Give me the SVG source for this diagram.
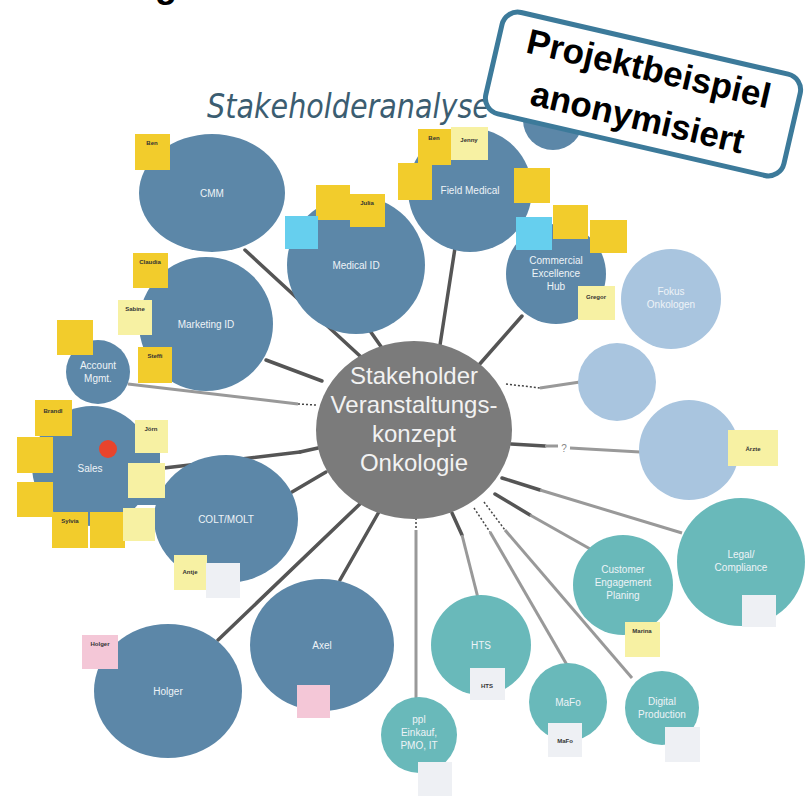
<svg xmlns="http://www.w3.org/2000/svg" width="808" height="800" viewBox="0 0 808 800">
<style>
.dk{fill:#5c87a8}
.lb{fill:#a9c5df}
.tl{fill:#69b9ba}
.lbl{font-family:"Liberation Sans",Arial,sans-serif;font-size:10px;fill:#eef3f7;text-anchor:middle}
.st{stroke:none}
.y{fill:#f2cc2c}
.ly{fill:#f7f1a3}
.cy{fill:#66cfee}
.pk{fill:#f4c7d7}
.gy{fill:#eef0f4}
.sn{font-family:"Liberation Sans",Arial,sans-serif;font-size:6px;font-weight:bold;fill:#333;text-anchor:middle}
.c{stroke:#555;stroke-width:3.5;fill:none;stroke-linecap:round}
.cl{stroke:#999;stroke-width:3;fill:none}
.dt{stroke:#444;stroke-width:1.5;stroke-dasharray:2 2;fill:none}
</style>
<rect width="808" height="800" fill="#ffffff"/>
<text x="166" y="-3" font-family="Liberation Sans,Arial,sans-serif" font-weight="bold" font-size="36" fill="#000" text-anchor="middle">g</text>
<text x="207" y="118" font-family="DejaVu Sans,sans-serif" font-style="italic" font-size="34" fill="#3b5d71" textLength="283" lengthAdjust="spacingAndGlyphs">Stakeholderanalyse</text>

<g id="connectors">
<line class="c" x1="245" y1="250" x2="360" y2="356"/>
<line class="c" x1="368" y1="328" x2="382" y2="348"/>
<line class="c" x1="455" y1="248" x2="440" y2="345"/>
<line class="c" x1="522" y1="316" x2="478" y2="366"/>
<line class="dt" x1="506" y1="384" x2="540" y2="388"/>
<line class="cl" x1="540" y1="388" x2="580" y2="382"/>
<line class="c" x1="511" y1="444" x2="545" y2="446"/>
<line class="cl" x1="545" y1="446" x2="558" y2="446"/>
<line class="cl" x1="570" y1="448" x2="640" y2="452"/>
<text x="564" y="452" font-family="Liberation Sans,Arial,sans-serif" font-size="10" fill="#888" text-anchor="middle">?</text>
<line class="c" x1="502" y1="478" x2="540" y2="490"/>
<line class="cl" x1="540" y1="490" x2="682" y2="533"/>
<line class="c" x1="495" y1="494" x2="530" y2="515"/>
<line class="cl" x1="530" y1="515" x2="592" y2="550"/>
<line class="dt" x1="484" y1="502" x2="505" y2="530"/>
<line class="cl" x1="505" y1="530" x2="632" y2="678" stroke-width="2"/>
<line class="dt" x1="474" y1="508" x2="490" y2="532"/>
<line class="cl" x1="490" y1="532" x2="567" y2="665" stroke-width="2"/>
<line class="c" x1="452" y1="513" x2="462" y2="535"/>
<line class="cl" x1="462" y1="535" x2="478" y2="598"/>
<line class="dt" x1="416" y1="518" x2="416" y2="530"/>
<line class="cl" x1="416" y1="530" x2="416" y2="700" stroke-width="2"/>
<line class="c" x1="380" y1="510" x2="340" y2="580"/>
<line class="c" x1="362" y1="502" x2="218" y2="640"/>
<line class="c" x1="326" y1="472" x2="292" y2="492"/>
<line class="c" x1="318" y1="448" x2="300" y2="452"/>
<line class="c" x1="300" y1="452" x2="164" y2="468" stroke="#666"/>
<line class="dt" x1="298" y1="404" x2="316" y2="405"/>
<line class="cl" x1="128" y1="384" x2="298" y2="404" stroke="#bbb"/>
<line class="c" x1="266" y1="360" x2="322" y2="381"/>
</g>

<g id="n-cmm">
<ellipse class="dk" cx="212" cy="193" rx="73" ry="59"/>
<text class="lbl" x="212" y="197">CMM</text>
<rect class="y" x="135" y="134" width="35" height="36"/>
<text class="sn" x="152" y="145">Ben</text>
</g>

<g id="n-medical">
<circle class="dk" cx="356" cy="265" r="69"/>
<text class="lbl" x="356" y="269">Medical ID</text>
<rect class="y" x="316" y="185" width="34" height="35"/>
<rect class="y" x="350" y="194" width="35" height="33"/>
<text class="sn" x="367" y="205">Julia</text>
<rect class="cy" x="285" y="216" width="33" height="33"/>
</g>

<g id="n-field">
<circle class="dk" cx="470" cy="190" r="62"/>
<text class="lbl" x="470" y="194">Field Medical</text>
<rect class="y" x="418" y="129" width="33" height="36"/>
<text class="sn" x="434" y="140">Ben</text>
<rect class="ly" x="451" y="127" width="37" height="33"/>
<text class="sn" x="469" y="142" font-weight="normal">Jenny</text>
<rect class="y" x="398" y="163" width="34" height="37"/>
<rect class="y" x="514" y="168" width="36" height="35"/>
</g>

<g id="n-top">
<circle class="dk" cx="553" cy="120" r="30"/>
</g>

<g id="n-ceh">
<circle class="dk" cx="556" cy="274" r="50"/>
<text class="lbl" x="556" y="264">Commercial</text>
<text class="lbl" x="556" y="277">Excellence</text>
<text class="lbl" x="556" y="290">Hub</text>
<rect class="cy" x="516" y="217" width="36" height="33"/>
<rect class="y" x="553" y="205" width="35" height="34"/>
<rect class="y" x="590" y="220" width="37" height="33"/>
<rect class="ly" x="578" y="286" width="37" height="34"/>
<text class="sn" x="596" y="299">Gregor</text>
</g>

<g id="n-fokus">
<circle class="lb" cx="671" cy="299" r="50"/>
<text class="lbl" x="671" y="295">Fokus</text>
<text class="lbl" x="671" y="308">Onkologen</text>
</g>

<g id="n-lb2">
<circle class="lb" cx="617" cy="382" r="39"/>
</g>

<g id="n-aerzte">
<circle class="lb" cx="689" cy="450" r="50"/>
<rect class="ly" x="728" y="430" width="50" height="36"/>
<text class="sn" x="753" y="451" font-size="8">Ärzte</text>
</g>

<g id="n-legal">
<circle class="tl" cx="741" cy="562" r="64"/>
<text class="lbl" x="741" y="558">Legal/</text>
<text class="lbl" x="741" y="571">Compliance</text>
<rect class="gy" x="742" y="595" width="34" height="32"/>
</g>

<g id="n-cep">
<circle class="tl" cx="623" cy="585" r="50"/>
<text class="lbl" x="623" y="573">Customer</text>
<text class="lbl" x="623" y="586">Engagement</text>
<text class="lbl" x="623" y="599">Planing</text>
<rect class="ly" x="625" y="622" width="35" height="35"/>
<text class="sn" x="642" y="633">Marina</text>
</g>

<g id="n-hts">
<circle class="tl" cx="481" cy="645" r="50"/>
<text class="lbl" x="481" y="649">HTS</text>
<rect class="gy" x="470" y="668" width="35" height="32"/>
<text class="sn" x="487" y="688" font-size="8" font-weight="normal">HTS</text>
</g>

<g id="n-mafo">
<circle class="tl" cx="568" cy="702" r="39"/>
<text class="lbl" x="568" y="706">MaFo</text>
<rect class="gy" x="548" y="723" width="34" height="34"/>
<text class="sn" x="565" y="743" font-size="7" font-weight="normal">MaFo</text>
</g>

<g id="n-digital">
<circle class="tl" cx="662" cy="708" r="37"/>
<text class="lbl" x="662" y="705">Digital</text>
<text class="lbl" x="662" y="718">Production</text>
<rect class="gy" x="665" y="727" width="35" height="35"/>
</g>

<g id="n-ppl">
<circle class="tl" cx="419" cy="735" r="38"/>
<text class="lbl" x="419" y="723">ppl</text>
<text class="lbl" x="419" y="736">Einkauf,</text>
<text class="lbl" x="419" y="749">PMO, IT</text>
<rect class="gy" x="418" y="762" width="34" height="34"/>
</g>

<g id="n-axel">
<ellipse class="dk" cx="322" cy="645" rx="72" ry="66"/>
<text class="lbl" x="322" y="649">Axel</text>
<rect class="pk" x="297" y="685" width="33" height="33"/>
</g>

<g id="n-holger">
<ellipse class="dk" cx="168" cy="691" rx="74" ry="67"/>
<text class="lbl" x="168" y="695">Holger</text>
<rect class="pk" x="82" y="635" width="36" height="34"/>
<text class="sn" x="100" y="646">Holger</text>
</g>

<g id="n-colt">
<ellipse class="dk" cx="226" cy="519" rx="72" ry="64"/>
<text class="lbl" x="226" y="523">COLT/MOLT</text>
<rect class="ly" x="174" y="555" width="33" height="35"/>
<text class="sn" x="190" y="574" font-size="7">Antje</text>
<rect class="gy" x="206" y="563" width="34" height="35"/>
</g>

<g id="n-sales">
<circle class="dk" cx="92" cy="466" r="60"/>
<rect class="dk" x="60" y="430" width="100" height="75"/>
<text class="lbl" x="90" y="472">Sales</text>
<circle cx="108" cy="449" r="9" fill="#e8442c"/>
<rect class="y" x="35" y="400" width="37" height="36"/>
<text class="sn" x="53" y="413">Brandl</text>
<rect class="y" x="17" y="437" width="36" height="36"/>
<rect class="y" x="17" y="482" width="36" height="35"/>
<rect class="y" x="52" y="512" width="36" height="36"/>
<text class="sn" x="70" y="523">Sylvia</text>
<rect class="y" x="90" y="512" width="35" height="36"/>
<rect class="ly" x="135" y="420" width="33" height="33"/>
<text class="sn" x="151" y="431">Jörn</text>
<rect class="ly" x="128" y="463" width="37" height="35"/>
<rect class="ly" x="123" y="508" width="32" height="33"/>
</g>

<g id="n-account">
<circle class="dk" cx="98" cy="372" r="32"/>
<text class="lbl" x="98" y="369">Account</text>
<text class="lbl" x="98" y="382">Mgmt.</text>
<rect class="y" x="57" y="320" width="36" height="35"/>
</g>

<g id="n-marketing">
<circle class="dk" cx="206" cy="324" r="67"/>
<text class="lbl" x="206" y="328">Marketing ID</text>
<rect class="y" x="133" y="253" width="35" height="35"/>
<text class="sn" x="150" y="264">Claudia</text>
<rect class="ly" x="118" y="300" width="34" height="35"/>
<text class="sn" x="135" y="311">Sabine</text>
<rect class="y" x="138" y="347" width="34" height="36"/>
<text class="sn" x="155" y="358">Steffi</text>
</g>

<g id="n-center">
<ellipse cx="414" cy="430" rx="98" ry="89" fill="#7b7b7b"/>
<g font-family="Liberation Sans,Arial,sans-serif" font-size="24" fill="#f2f2f2" text-anchor="middle">
<text x="414" y="384">Stakeholder</text>
<text x="414" y="413">Veranstaltungs-</text>
<text x="414" y="442">konzept</text>
<text x="414" y="471">Onkologie</text>
</g>
</g>

<g id="badge" transform="translate(643,94) rotate(13)">
<rect x="-153" y="-52" width="306" height="104" rx="16" fill="#ffffff" stroke="#3c7a9a" stroke-width="5"/>
<g font-family="Liberation Sans,Arial,sans-serif" font-weight="bold" font-size="35" fill="#000" text-anchor="middle">
<text x="0" y="-14">Projektbeispiel</text>
<text x="0" y="36">anonymisiert</text>
</g>
</g>
</svg>
